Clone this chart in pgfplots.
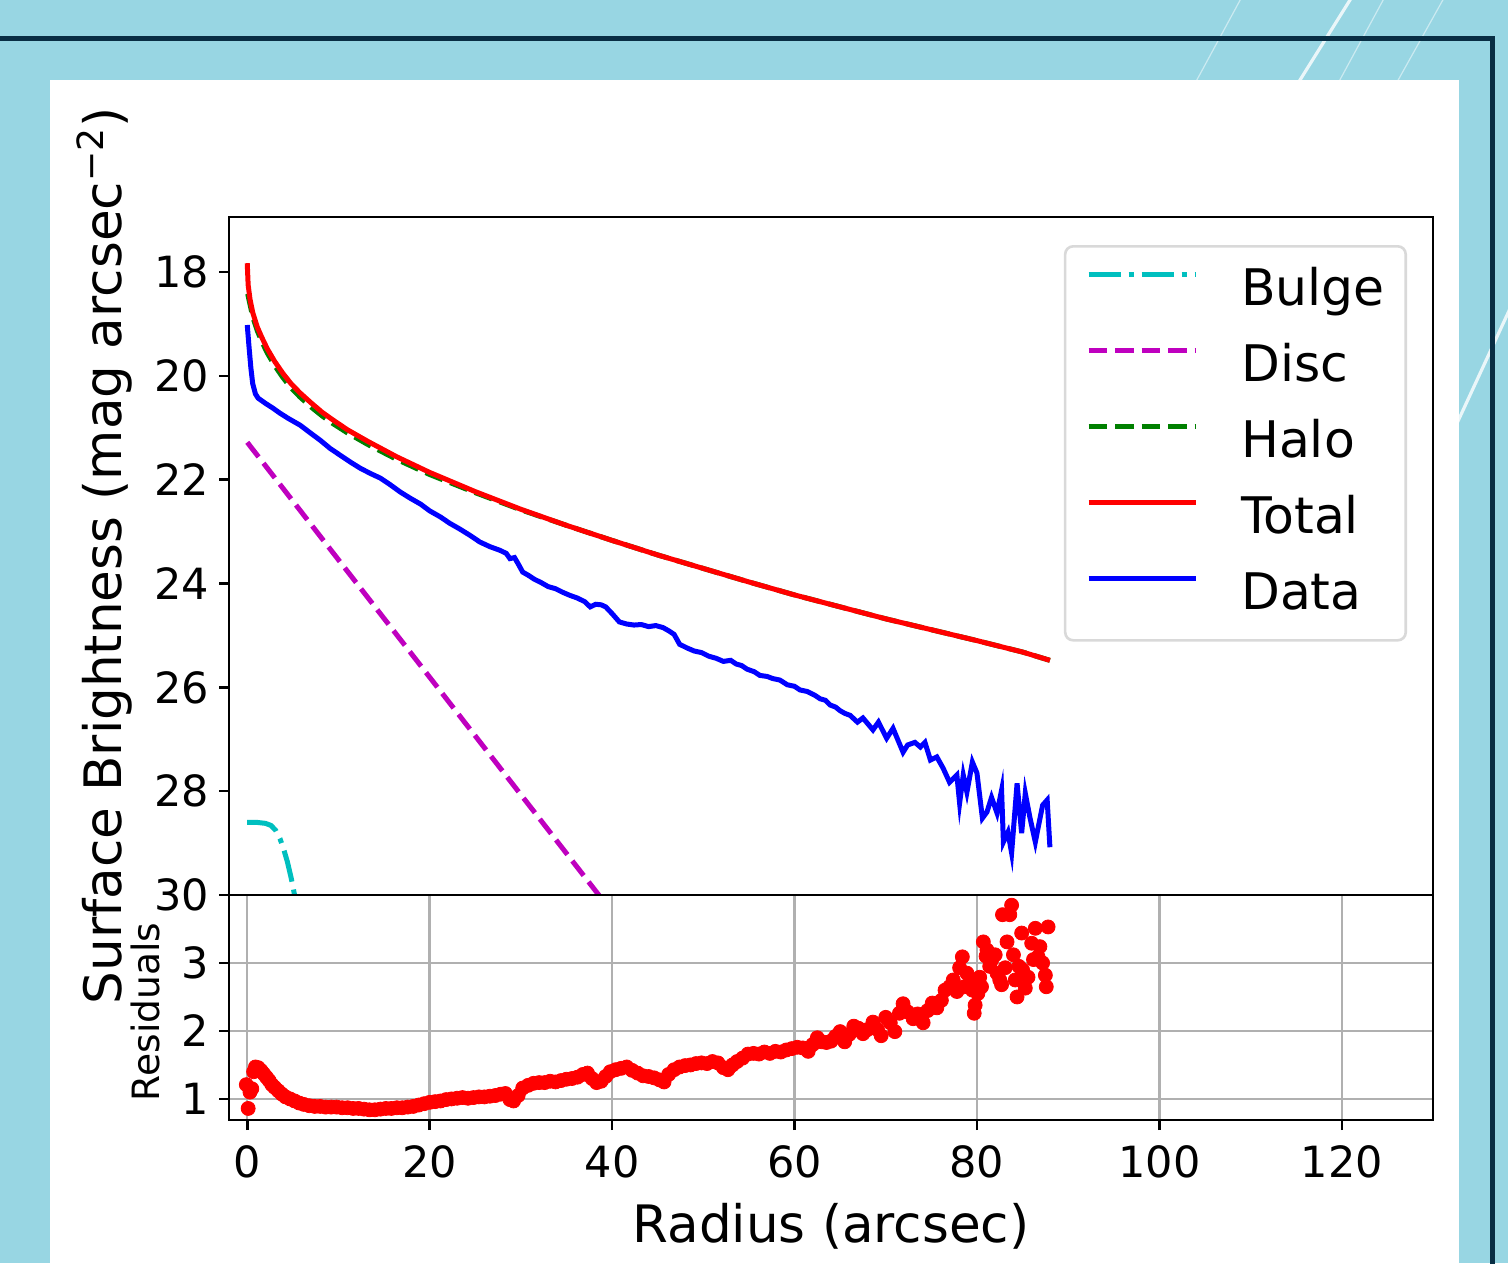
\documentclass[border=0pt]{standalone}
\usepackage{fontspec}
\setmainfont{DejaVu Sans}
\usepackage{pgfplots}
\pgfplotsset{compat=1.18}

\definecolor{bgblue}{RGB}{152,214,227}
\definecolor{navy}{RGB}{8,46,68}
\definecolor{mplc}{RGB}{0,191,191}
\definecolor{mplm}{RGB}{191,0,191}
\definecolor{mplg}{RGB}{0,128,0}
\definecolor{gridgray}{RGB}{176,176,176}

\newcommand{\ticksize}{\fontsize{21.5pt}{25pt}\selectfont}
\newcommand{\labelsize}{\fontsize{25.8pt}{30pt}\selectfont}
\newcommand{\legsize}{\fontsize{25.2pt}{30pt}\selectfont}
\newcommand{\residsize}{\fontsize{18.8pt}{22pt}\selectfont}

\pgfplotsset{
  panel/.style={
    scale only axis, width=602pt, xmin=-2, xmax=130,
    axis line style={line width=1.3pt, black},
    tick align=outside, tick pos=left, major tick length=5pt,
    tick style={line width=1.3pt, black},
    tick label style={font=\ticksize},
    xticklabel style={yshift=-4.5pt},
    yticklabel style={xshift=-1.5pt},
    /pgf/number format/assume math mode=true,
  },
}

\begin{document}
\begin{tikzpicture}
\useasboundingbox (0,0) rectangle (754pt,631.5pt);
% backdrop
\fill[bgblue] (0,0) rectangle (754pt,631.5pt);
\begin{scope}[white, opacity=0.5]
  \draw[line width=0.6pt] (625.5pt,641.5pt) -- (593pt,581.5pt);
  \draw[line width=1.6pt, opacity=0.8] (681.25pt,641.5pt) -- (643.75pt,581.5pt);
  \draw[line width=0.6pt] (697pt,641.5pt) -- (664.5pt,581.5pt);
  \draw[line width=0.6pt] (727pt,641.5pt) -- (693.5pt,581.5pt);
  \draw[line width=1.6pt, opacity=0.8] (760pt,488pt) -- (720pt,401.5pt);
\end{scope}
% frame
\draw[navy, line width=2.5pt] (-5pt,612pt) -- (746.25pt,612pt) -- (746.25pt,-5pt);
% white panel
\fill[white] (25pt,-1pt) rectangle (729.5pt,591.5pt);

% surface brightness profile
\begin{axis}[panel,
  at={(114.5pt,184pt)}, anchor=south west, height=339pt,
  ymin=16.94, ymax=30, y dir=reverse, ytick={18,20,...,30},
  xtick=\empty,
  ylabel={Surface Brightness (mag arcsec\textsuperscript{−2})},
  ylabel style={font=\labelsize, at={(axis description cs:-0.089,0.5)}, anchor=base},
  legend cell align=left,
  legend image code/.code={\draw[#1] (0pt,8.5pt) -- (53.5pt,8.5pt);},
  legend style={at={(1,1)}, anchor=north east, xshift=-13pt, yshift=-14pt,
    draw=black!15, line width=1.3pt, rounded corners=4pt, fill=white,
    font=\legsize, inner xsep=10.5pt, inner ysep=10.5pt, row sep=14pt,
    nodes={inner sep=0pt, text height=19pt, text depth=5pt},
    /tikz/every odd column/.append style={column sep=21.5pt}},
]
\addplot[mplc, line width=2.5pt, dash pattern=on 16pt off 4pt on 2.5pt off 4pt] table {
x y
0.0 28.60
1.0 28.60
2.0 28.62
2.6 28.66
3.1 28.75
3.6 28.92
4.0 29.12
4.4 29.36
4.8 29.66
5.1 29.92
5.3 30.10
};
\addlegendentry{Bulge}
\addplot[mplm, line width=2.5pt, dash pattern=on 9.25pt off 4pt] table {
x y
0.0 21.28
40.0 30.33
};
\addlegendentry{Disc}
\addplot[mplg, line width=2.5pt, dash pattern=on 9.25pt off 4pt] table {
x y
0.05 18.42
0.3 18.62
0.6 18.86
1.1 19.13
1.6 19.34
2.2 19.56
3.0 19.80
3.9 20.03
4.8 20.23
5.8 20.41
7.0 20.60
8.2 20.77
9.4 20.92
11.0 21.10
13.2 21.32
16.4 21.61
20.0 21.90
25.0 22.25
30.0 22.58
35.0 22.88
40.0 23.17
45.0 23.45
50.0 23.71
55.0 23.97
60.0 24.22
65.0 24.45
70.0 24.68
75.0 24.89
80.0 25.10
85.0 25.32
88.0 25.48
};
\addlegendentry{Halo}
\addplot[red, line width=2.5pt] table {
x y
0.0 17.83
0.1 18.25
0.3 18.52
0.6 18.78
1.1 19.06
1.6 19.26
2.2 19.48
3.0 19.72
3.9 19.95
4.8 20.15
5.8 20.33
7.0 20.52
8.2 20.70
9.4 20.85
11.0 21.04
13.2 21.26
16.4 21.56
20.0 21.86
25.0 22.23
30.0 22.57
35.0 22.88
40.0 23.17
45.0 23.45
50.0 23.71
55.0 23.97
60.0 24.22
65.0 24.45
70.0 24.68
75.0 24.89
80.0 25.10
85.0 25.32
88.0 25.48
};
\addlegendentry{Total}
\addplot[blue, line width=2.5pt] table {
x y
0.0 19.02
0.2 19.45
0.4 19.85
0.6 20.15
0.9 20.35
1.2 20.43
1.6 20.48
2.0 20.53
2.8 20.62
3.6 20.72
4.5 20.82
5.8 20.95
7.0 21.11
8.0 21.24
9.1 21.40
10.2 21.53
11.3 21.66
12.4 21.78
13.5 21.88
14.6 21.97
15.7 22.10
16.8 22.24
17.9 22.36
19.0 22.47
20.0 22.60
21.2 22.72
22.2 22.84
23.3 22.95
24.4 23.07
25.5 23.20
26.6 23.29
27.7 23.36
28.4 23.42
28.8 23.52
29.3 23.50
29.7 23.62
30.2 23.78
30.8 23.84
31.5 23.92
32.2 23.98
33.0 24.06
33.8 24.10
34.6 24.17
35.4 24.23
36.2 24.28
37.0 24.35
37.6 24.45
38.2 24.40
38.8 24.41
39.3 24.45
40.0 24.58
40.8 24.74
41.6 24.78
42.4 24.80
43.2 24.79
44.0 24.83
44.8 24.81
45.6 24.85
46.2 24.91
46.8 24.98
47.4 25.17
48.2 25.24
49.0 25.30
49.8 25.33
50.6 25.40
51.4 25.44
52.2 25.50
53.0 25.48
53.6 25.55
54.2 25.58
54.8 25.65
55.6 25.70
56.2 25.77
57.0 25.79
57.6 25.83
58.4 25.86
59.2 25.95
60.0 25.98
60.6 26.05
61.4 26.08
62.2 26.15
62.8 26.22
63.4 26.25
63.9 26.34
64.5 26.38
65.0 26.45
65.5 26.50
66.1 26.54
66.9 26.67
67.5 26.59
68.6 26.82
69.2 26.67
70.1 26.98
70.8 26.79
71.9 27.25
72.4 27.11
73.2 27.06
73.8 27.15
74.3 27.06
74.9 27.40
75.6 27.34
76.3 27.56
77.0 27.83
77.8 27.69
78.1 28.23
78.5 27.69
78.9 28.02
79.5 27.44
80.0 27.65
80.6 28.52
81.1 28.40
81.6 28.12
82.2 28.42
82.7 27.98
82.9 28.98
83.4 28.79
83.8 29.19
84.4 27.85
84.9 28.81
85.3 28.04
85.8 28.50
86.4 28.98
86.7 28.71
87.2 28.27
87.7 28.17
88.0 29.08
};
\addlegendentry{Data}
\end{axis}

% residuals (data minus total model)
\begin{axis}[panel,
  at={(114.5pt,71.5pt)}, anchor=south west, height=112.5pt,
  ymin=0.69, ymax=4.0, ytick={1,2,3}, xtick={0,20,...,120},
  grid=major, grid style={gridgray, line width=1.2pt},
  xlabel={Radius (arcsec)},
  xlabel style={font=\labelsize, at={(axis description cs:0.5,0)}, anchor=base, yshift=-61pt},
  ylabel={Residuals},
  ylabel style={font=\residsize, at={(axis description cs:-0.058,0.48)}, anchor=base},
]
\addplot[only marks, mark=*, mark size=3.5pt, mark options={draw=red, fill=red}] table {
x y
-0.1 1.21
0.1 0.86
0.3 1.10
0.5 1.15
0.7 1.40
0.9 1.47
1.2 1.46
1.5 1.42
1.8 1.37
2.1 1.32
2.4 1.27
2.7 1.21
3.0 1.17
3.4 1.12
3.8 1.07
4.2 1.03
4.7 1.00
5.2 0.97
5.7 0.94
6.2 0.92
6.8 0.90
7.4 0.89
8.0 0.89
8.6 0.88
9.2 0.88
9.8 0.88
10.4 0.87
11.0 0.87
11.6 0.86
12.2 0.86
12.8 0.85
13.4 0.84
14.0 0.84
14.6 0.85
15.2 0.86
15.8 0.86
16.4 0.87
17.0 0.87
17.6 0.88
18.2 0.89
18.8 0.91
19.4 0.93
20.0 0.95
20.6 0.96
21.2 0.97
21.8 0.99
22.4 1.00
23.0 1.01
23.6 1.02
24.2 1.01
24.8 1.02
25.4 1.03
26.0 1.03
26.6 1.04
27.2 1.05
27.8 1.07
28.3 1.08
28.8 0.99
29.2 0.97
29.7 1.05
30.2 1.16
30.8 1.20
31.4 1.23
32.0 1.24
32.6 1.24
33.2 1.26
33.8 1.25
34.4 1.27
35.0 1.29
35.6 1.30
36.2 1.32
36.8 1.36
37.3 1.38
37.8 1.30
38.3 1.24
38.8 1.26
39.3 1.33
39.8 1.40
40.4 1.43
41.0 1.45
41.6 1.47
42.2 1.42
42.8 1.38
43.4 1.34
44.0 1.33
44.6 1.31
45.2 1.28
45.7 1.25
46.2 1.36
46.8 1.43
47.4 1.47
48.0 1.49
48.6 1.50
49.2 1.52
49.8 1.53
50.4 1.52
51.0 1.55
51.6 1.53
52.2 1.46
52.7 1.43
53.2 1.50
53.7 1.55
54.3 1.60
54.9 1.66
55.5 1.67
56.1 1.66
56.7 1.69
57.3 1.67
57.9 1.70
58.5 1.69
59.1 1.72
59.7 1.74
60.3 1.76
60.9 1.75
61.5 1.70
62.0 1.80
62.5 1.90
63.0 1.84
63.5 1.83
64.0 1.85
64.5 1.92
65.0 1.99
65.5 1.84
66.0 1.95
66.5 2.07
67.0 2.04
67.5 1.96
68.0 2.02
68.6 2.13
69.1 2.02
69.5 1.93
70.0 2.20
70.5 2.12
71.0 1.99
71.5 2.26
71.9 2.40
72.4 2.28
73.0 2.18
73.5 2.25
74.1 2.12
74.6 2.30
75.1 2.41
75.6 2.34
76.1 2.45
76.5 2.60
77.0 2.65
77.4 2.75
77.8 2.58
78.1 2.93
78.4 3.09
78.6 2.65
78.9 2.85
79.2 2.70
79.5 2.60
79.7 2.26
79.8 2.38
80.1 2.55
80.3 2.79
80.5 2.65
80.7 3.31
81.0 3.10
81.1 3.19
81.4 2.95
81.6 3.04
82.0 3.12
82.2 2.85
82.5 2.75
82.7 2.68
82.8 3.71
83.1 2.93
83.3 3.31
83.6 3.71
83.8 3.85
84.0 3.12
84.2 2.75
84.4 2.50
84.6 2.95
84.9 3.44
85.0 2.90
85.3 2.63
85.6 2.79
86.0 3.29
86.2 3.05
86.4 3.51
86.7 3.09
86.9 3.24
87.2 3.00
87.5 2.82
87.6 2.65
87.8 3.53
};
\end{axis}
\end{tikzpicture}
\end{document}
